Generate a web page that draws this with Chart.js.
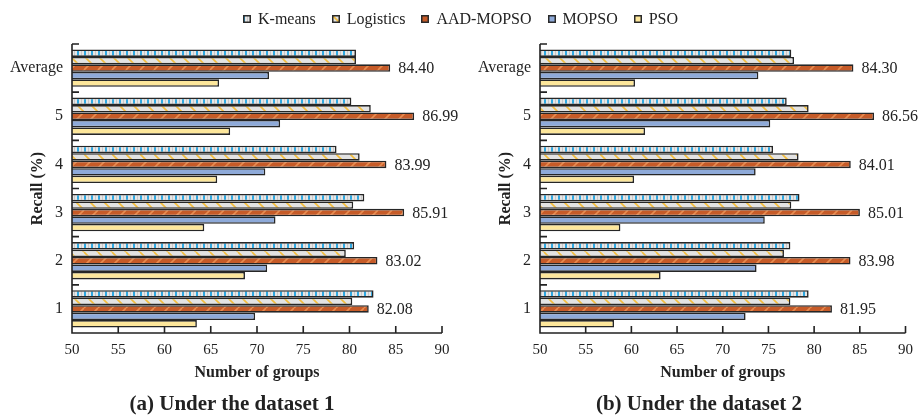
<!DOCTYPE html>
<html><head><meta charset="utf-8">
<script src="https://cdn.jsdelivr.net/npm/chart.js@4.4.0/dist/chart.umd.min.js"></script>
<style>
html,body{margin:0;padding:0;background:#fff;}
#wrap{position:relative;width:921px;height:420px;overflow:hidden;font-family:"Liberation Serif","Times New Roman",serif;color:#222;}
#c1{position:absolute;left:0;top:0;}
#c2{position:absolute;left:460px;top:0;}
#legend{position:absolute;left:243px;top:9px;height:20px;display:flex;align-items:center;white-space:nowrap;font-size:16px;}
.item{display:flex;align-items:center;margin-right:16px;}
.item canvas{margin-right:7px;display:block;}
.cap{position:absolute;top:391px;width:460px;text-align:center;font-weight:bold;font-size:21px;line-height:24px;}
</style></head>
<body><div id="wrap">
<canvas id="c1" width="460" height="420"></canvas>
<canvas id="c2" width="461" height="420"></canvas>
<div id="legend"></div>
<div class="cap" style="left:2px">(a) Under the dataset 1</div>
<div class="cap" style="left:469px">(b) Under the dataset 2</div>
</div>
<script>
// ---- data ----
const categories = ['Average', '5', '4', '3', '2', '1'];
const seriesNames = ['K-means', 'Logistics', 'AAD-MOPSO', 'MOPSO', 'PSO'];
const xTickValues = [50, 55, 60, 65, 70, 75, 80, 85, 90];

const d1KMeans    = [80.7, 80.2, 78.6, 81.6, 80.5, 82.6];
const d1Logistics = [80.7, 82.3, 81.1, 80.4, 79.6, 80.3];
const d1AAD       = [84.40, 86.99, 83.99, 85.91, 83.02, 82.08];
const d1MOPSO     = [71.3, 72.5, 70.9, 72.0, 71.1, 69.8];
const d1PSO       = [65.9, 67.1, 65.7, 64.3, 68.7, 63.5];

const d2KMeans    = [77.5, 77.0, 75.5, 78.4, 77.4, 79.4];
const d2Logistics = [77.8, 79.4, 78.3, 77.5, 76.7, 77.4];
const d2AAD       = [84.30, 86.56, 84.01, 85.01, 83.98, 81.95];
const d2MOPSO     = [73.9, 75.2, 73.6, 74.6, 73.7, 72.5];
const d2PSO       = [60.4, 61.5, 60.3, 58.8, 63.2, 58.1];

const labelSeriesIndex = 2;

// ---- fills ----
function tile(w, h, draw) {
  const c = document.createElement('canvas');
  c.width = w; c.height = h;
  draw(c.getContext('2d'), w, h);
  return c;
}
function stripeTile() {
  return tile(7, 7, (g, w, h) => {
    g.fillStyle = '#e6e6e6'; g.fillRect(0, 0, w, h);
    g.fillStyle = '#2ea7e0'; g.fillRect(0, 0, 2, h);
    g.fillStyle = '#c8c8c8'; g.fillRect(4, 0, 1, h);
  });
}
function hatchTile(bg, fg, forward) {
  return tile(14, 14, (g, s) => {
    g.fillStyle = bg; g.fillRect(0, 0, s, s);
    g.strokeStyle = fg; g.lineWidth = 1.6;
    g.beginPath();
    for (let o = -s; o <= s; o += s) {
      if (forward) { g.moveTo(o, s); g.lineTo(o + s, 0); }
      else { g.moveTo(o, 0); g.lineTo(o + s, s); }
    }
    g.stroke();
  });
}
const ctx0 = document.createElement('canvas').getContext('2d');
const fills = [
  ctx0.createPattern(stripeTile(), 'repeat'),
  ctx0.createPattern(hatchTile('#e3e3e3', '#f3bd3c', false), 'repeat'),
  ctx0.createPattern(hatchTile('#c65b28', '#e88c50', true), 'repeat'),
  '#8eaad9',
  '#fde79b'
];

// ---- legend (HTML) ----
const legend = document.getElementById('legend');
seriesNames.forEach((name, k) => {
  const item = document.createElement('span'); item.className = 'item';
  const sw = document.createElement('canvas'); sw.width = 8; sw.height = 8;
  const g = sw.getContext('2d');
  g.fillStyle = fills[k]; g.fillRect(0, 0, 8, 8);
  g.strokeStyle = '#2a2a2a'; g.lineWidth = 1.5; g.strokeRect(0.75, 0.75, 6.5, 6.5);
  item.appendChild(sw);
  const t = document.createElement('span'); t.textContent = name;
  item.appendChild(t);
  legend.appendChild(item);
});

// ---- plugins ----
const axisPlugin = {
  id: 'axisTicks',
  afterDatasetsDraw(chart) {
    const { ctx, chartArea: a, scales: { x, y } } = chart;
    ctx.save();
    ctx.strokeStyle = '#222'; ctx.lineWidth = 1.6;
    ctx.beginPath();
    ctx.moveTo(a.left, a.top); ctx.lineTo(a.left, a.bottom); ctx.lineTo(a.right, a.bottom);
    x.ticks.forEach(t => {
      const px = x.getPixelForValue(t.value);
      ctx.moveTo(px, a.bottom); ctx.lineTo(px, a.bottom - 7);
    });
    const half = (y.getPixelForValue(1) - y.getPixelForValue(0)) / 2;
    y.ticks.forEach((t, i) => {
      const py = y.getPixelForValue(i) - half;
      ctx.moveTo(a.left, py); ctx.lineTo(a.left + 7, py);
    });
    ctx.stroke();
    ctx.restore();
  }
};
const valueLabels = {
  id: 'valueLabels',
  afterDatasetsDraw(chart) {
    const { ctx } = chart;
    const meta = chart.getDatasetMeta(labelSeriesIndex);
    const ds = chart.data.datasets[labelSeriesIndex];
    ctx.save();
    ctx.font = '16px "Liberation Serif"';
    ctx.fillStyle = '#222';
    ctx.textBaseline = 'middle';
    ctx.textAlign = 'left';
    meta.data.forEach((el, i) => ctx.fillText(ds.data[i].toFixed(2), el.x + 8, el.y + 1));
    ctx.restore();
  }
};

const FAM = '"Liberation Serif", "Times New Roman", serif';
function build(id, series, yWidth, titlePad, padRight) {
  return new Chart(document.getElementById(id), {
    type: 'bar',
    data: {
      labels: categories,
      datasets: seriesNames.map((n, k) => ({
        label: n, data: series[k], backgroundColor: fills[k],
        borderColor: '#262626', borderWidth: 1.6, borderSkipped: false,
        categoryPercentage: 0.775, barPercentage: 1
      }))
    },
    options: {
      indexAxis: 'y', responsive: false, animation: false,
      layout: { padding: { top: 44, right: padRight, bottom: 38, left: 0 } },
      plugins: { legend: { display: false }, tooltip: { enabled: false } },
      scales: {
        x: {
          type: 'linear', min: xTickValues[0], max: xTickValues[xTickValues.length - 1],
          afterBuildTicks(s) { s.ticks = xTickValues.map(v => ({ value: v })); },
          ticks: { padding: 8, color: '#222', font: { family: FAM, size: 15 } },
          grid: { display: false, drawTicks: false }, border: { display: false },
          title: { display: true, text: 'Number of groups', color: '#222',
                   font: { family: FAM, size: 16, weight: 'bold' }, padding: { top: 0, bottom: 0 } },
          afterFit(s) { s.height = 49; }
        },
        y: {
          ticks: { padding: 9, color: '#222', font: { family: FAM, size: 16 } },
          grid: { display: false, drawTicks: false }, border: { display: false },
          title: { display: true, text: 'Recall (%)', color: '#222',
                   font: { family: FAM, size: 16, weight: 'bold' }, padding: { top: titlePad, bottom: 0 } },
          afterFit(s) { s.width = yWidth; }
        }
      }
    },
    plugins: [axisPlugin, valueLabels]
  });
}

build('c1', [d1KMeans, d1Logistics, d1AAD, d1MOPSO, d1PSO], 72, 28, 18);
build('c2', [d2KMeans, d2Logistics, d2AAD, d2MOPSO, d2PSO], 80, 36, 11);
</script>
</body></html>
